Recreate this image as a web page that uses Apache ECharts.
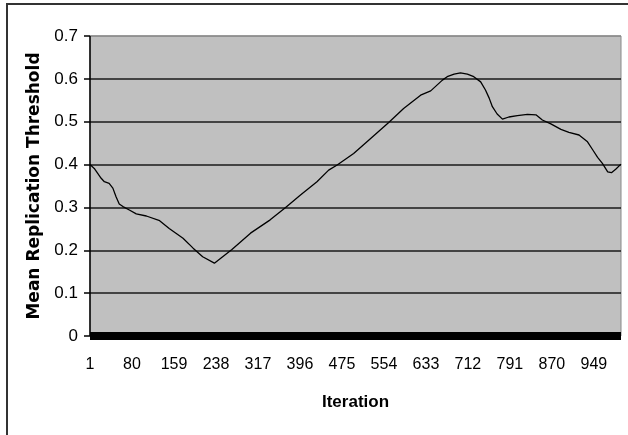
<!DOCTYPE html>
<html>
<head>
<meta charset="utf-8">
<script src="https://cdn.jsdelivr.net/npm/echarts@6/dist/echarts.min.js"></script>
<style>
  html, body { margin: 0; padding: 0; background: #ffffff; }
  #chart { width: 628px; height: 435px; }
</style>
</head>
<body>
<div id="chart"></div>
<script>
var iterations = [1, 9, 22, 28, 37, 44, 50, 56, 63, 75, 88, 107, 132, 150, 176, 195, 213, 235,
  268, 303, 340, 369, 397, 428, 450, 466, 497, 529, 563, 591, 623, 642, 664, 673, 686, 698,
  711, 723, 736, 745, 752, 758, 767, 777, 789, 805, 824, 840, 852, 868, 887, 902, 921, 937,
  947, 956, 965, 975, 982, 990, 1000];
// Mean replication threshold at those iterations
var thresholds = [0.400, 0.391, 0.368, 0.360, 0.356, 0.345, 0.325, 0.308, 0.302, 0.294, 0.285,
  0.280, 0.269, 0.251, 0.228, 0.205, 0.185, 0.170,
  0.202, 0.240, 0.271, 0.300, 0.329, 0.360, 0.387, 0.399, 0.426, 0.461, 0.498, 0.531, 0.562,
  0.572, 0.597, 0.605, 0.611, 0.614,
  0.611, 0.605, 0.593, 0.574, 0.555, 0.535, 0.518, 0.506, 0.511, 0.514, 0.517, 0.516, 0.504,
  0.495, 0.482, 0.475, 0.469, 0.453,
  0.434, 0.417, 0.403, 0.383, 0.381, 0.389, 0.401];
var xTickStart = 1, xTickStep = 79, xMax = 1000;
var yMin = 0, yMax = 0.7, yStep = 0.1;
var xTitle = 'Iteration';
var yTitle = 'Mean Replication Threshold';

var seriesData = iterations.map(function (it, i) { return [it, thresholds[i]]; });

var chart = echarts.init(document.getElementById('chart'), null, { renderer: 'canvas' });
var sans = "'Liberation Sans', Arial, sans-serif";
chart.setOption({
  animation: false,
  backgroundColor: '#ffffff',
  graphic: [{
    type: 'rect',
    shape: { x: 7, y: 4, width: 660, height: 470 },
    style: { fill: 'none', stroke: '#333333', lineWidth: 2 },
    z: 0
  }],
  grid: {
    left: 90, top: 36, right: 7, bottom: 99,
    show: true,
    backgroundColor: '#c0c0c0',
    borderColor: '#8a8a8a',
    borderWidth: 1
  },
  xAxis: {
    type: 'value',
    min: xTickStart, max: xMax, interval: xTickStep,
    offset: 3,
    name: xTitle,
    nameLocation: 'middle',
    nameGap: 55,
    nameTextStyle: { fontFamily: sans, fontWeight: 'bold', fontSize: 17, color: '#000' },
    axisLine: { show: true, lineStyle: { color: '#000', width: 8, cap: 'butt' } },
    axisTick: { show: false },
    splitLine: { show: false },
    axisLabel: {
      showMaxLabel: false,
      margin: 18,
      fontFamily: sans, fontSize: 16, color: '#000'
    }
  },
  yAxis: {
    type: 'value',
    min: yMin, max: yMax, interval: yStep,
    name: yTitle,
    nameLocation: 'middle',
    nameGap: 42,
    nameRotate: 90,
    nameTextStyle: { fontFamily: 'DejaVu Sans', fontWeight: 'bold', fontSize: 17, color: '#000' },
    axisLine: { show: true, lineStyle: { color: '#000', width: 1.5, cap: 'butt' } },
    axisTick: { show: true, length: 6, lineStyle: { color: '#000', width: 1.5 } },
    splitLine: {
      show: true,
      lineStyle: {
        color: ['#000', '#1a1a1a', '#1a1a1a', '#1a1a1a', '#1a1a1a', '#1a1a1a', '#1a1a1a', '#8a8a8a'],
        width: 1.5
      }
    },
    axisLabel: {
      margin: 12,
      fontFamily: sans, fontSize: 17, color: '#000'
    }
  },
  series: [{
    type: 'line',
    data: seriesData,
    showSymbol: false,
    smooth: false,
    lineStyle: { color: '#000', width: 1.3 },
    z: 5
  }]
});
</script>
</body>
</html>
